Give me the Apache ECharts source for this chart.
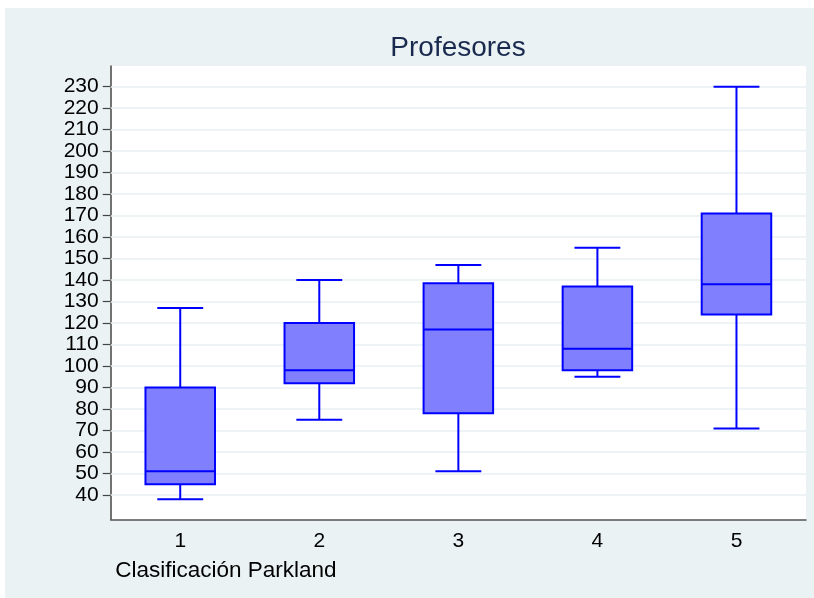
<!DOCTYPE html>
<html>
<head>
<meta charset="utf-8">
<script src="https://cdn.jsdelivr.net/npm/echarts@6/dist/echarts.min.js"></script>
<style>
html,body{margin:0;padding:0;background:#fff;}
#chart{width:814px;height:598px;}
</style>
</head>
<body>
<div id="chart"></div>
<script>
const categories = ['1', '2', '3', '4', '5'];
const lowWhisker = [38, 75, 51, 95, 71];
const q1 = [45, 92, 78, 98, 124];
const median = [51, 98, 117, 108, 138];
const q3 = [90, 120, 138.5, 137, 171];
const highWhisker = [127, 140, 147, 155, 230];
const yTicks = [40, 50, 60, 70, 80, 90, 100, 110, 120, 130, 140, 150, 160, 170, 180, 190, 200, 210, 220, 230];
const titleText = 'Profesores';
const xTitle = 'Clasificación Parkland';

const boxData = categories.map((c, i) => [i, lowWhisker[i], q1[i], median[i], q3[i], highWhisker[i]]);

const FONT = '"Liberation Sans", Arial, sans-serif';

function renderItem(params, api) {
  const i = api.value(0);
  const band = api.size([1, 0])[0];
  const xc = api.coord([i, api.value(3)])[0];
  const yLow = api.coord([i, api.value(1)])[1];
  const yQ1 = api.coord([i, api.value(2)])[1];
  const yMed = api.coord([i, api.value(3)])[1];
  const yQ3 = api.coord([i, api.value(4)])[1];
  const yHigh = api.coord([i, api.value(5)])[1];
  const bw = band * 0.5;
  const cw = band * 0.33;
  const st = { stroke: '#0000ff', lineWidth: 2 };
  return {
    type: 'group',
    children: [
      { type: 'line', shape: { x1: xc, y1: yQ3, x2: xc, y2: yHigh }, style: st },
      { type: 'line', shape: { x1: xc, y1: yQ1, x2: xc, y2: yLow }, style: st },
      { type: 'line', shape: { x1: xc - cw / 2, y1: yHigh, x2: xc + cw / 2, y2: yHigh }, style: st },
      { type: 'line', shape: { x1: xc - cw / 2, y1: yLow, x2: xc + cw / 2, y2: yLow }, style: st },
      { type: 'rect', shape: { x: xc - bw / 2, y: yQ3, width: bw, height: yQ1 - yQ3 },
        style: { fill: '#8080ff', stroke: '#0000ff', lineWidth: 2 } },
      { type: 'line', shape: { x1: xc - bw / 2, y1: yMed, x2: xc + bw / 2, y2: yMed }, style: st }
    ]
  };
}

const chart = echarts.init(document.getElementById('chart'), null, { renderer: 'canvas' });
chart.setOption({
  animation: false,
  backgroundColor: '#ffffff',
  graphic: {
    elements: [
      { type: 'rect', left: 5, top: 8, z: -100, silent: true,
        shape: { width: 809, height: 590 }, style: { fill: '#eaf2f3' } }
    ]
  },
  title: {
    text: titleText,
    left: 458,
    top: 34,
    textAlign: 'center',
    padding: 0,
    textStyle: { fontFamily: FONT, fontSize: 28, fontWeight: 'normal', color: '#1a2a4f' }
  },
  grid: {
    left: 110.7, right: 8, top: 66, bottom: 78.7,
    show: true, backgroundColor: '#ffffff', borderWidth: 0,
    containLabel: false
  },
  xAxis: {
    type: 'category',
    data: categories,
    boundaryGap: true,
    name: xTitle,
    nameLocation: 'start',
    nameGap: -4.5,
    nameTextStyle: { fontFamily: FONT, fontSize: 22.5, color: '#000', align: 'left', verticalAlign: 'top', padding: [40, 0, 0, 0] },
    axisLine: { show: true, lineStyle: { color: '#555', width: 1.5 } },
    axisTick: { show: false },
    axisLabel: { fontFamily: FONT, fontSize: 21, color: '#000', margin: 11 },
    splitLine: { show: false }
  },
  yAxis: {
    type: 'value',
    min: 28.7,
    max: 239.6,
    axisLine: { show: true, lineStyle: { color: '#444', width: 1.5 } },
    axisTick: { show: true, length: 8, customValues: yTicks, lineStyle: { color: '#444', width: 1.2 } },
    axisLabel: { customValues: yTicks, fontFamily: FONT, fontSize: 21, color: '#000', margin: 12 },
    splitLine: { show: false }
  },
  series: [{
    type: 'custom',
    name: titleText,
    renderItem: renderItem,
    data: boxData,
    encode: { x: 0, y: [1, 2, 3, 4, 5] },
    z: 2,
    markLine: {
      silent: true,
      symbol: ['none', 'none'],
      label: { show: false },
      z: 1,
      lineStyle: { color: '#e8f0f2', width: 1.5, type: 'solid' },
      emphasis: { disabled: true },
      data: yTicks.map(v => ({ yAxis: v }))
    }
  }]
});
</script>
</body>
</html>
